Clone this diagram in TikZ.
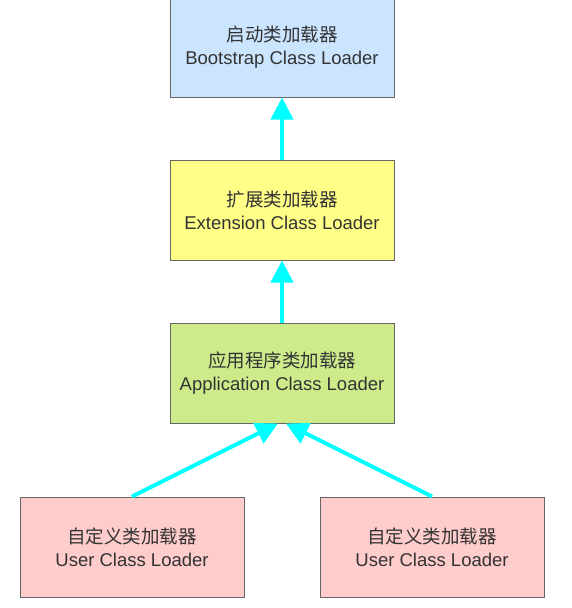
\documentclass[tikz,border=0pt]{standalone}
\usepackage{fontspec}
\setmainfont{Liberation Sans}
\newfontfamily\cjk{Noto Sans CJK SC}
\usepackage{xcolor}
\usetikzlibrary{arrows.meta, positioning}

\definecolor{bootblue}{HTML}{CCE5FF}
\definecolor{extyellow}{HTML}{FFFF88}
\definecolor{appgreen}{HTML}{CDEB8B}
\definecolor{userpink}{HTML}{FFCCCC}
\definecolor{linegray}{HTML}{666666}
\definecolor{textgray}{HTML}{333333}
\definecolor{arrowcyan}{HTML}{00FFFF}

\begin{document}
\begin{tikzpicture}[x=1pt, y=-1pt, node distance=62pt]
\tikzstyle{loader} = [rectangle, minimum width=224pt, minimum height=100pt, text centered, align=center, draw=linegray, line width=1pt, text=textgray, font=\fontsize{18.5}{23}\selectfont]
\tikzstyle{arrow} = [draw=arrowcyan, line width=4pt, -{Triangle[length=22pt, width=22pt]}]

\useasboundingbox (0,0) rectangle (572,608);

\node (boot) [loader, fill=bootblue] at (282,47) {{\cjk 启动类加载器}\\Bootstrap Class Loader};
\node (ext) [loader, fill=extyellow, below=of boot] {{\cjk 扩展类加载器}\\Extension Class Loader};
\node (app) [loader, fill=appgreen, below=of ext] {{\cjk 应用程序类加载器}\\Application Class Loader};
\node (user1) [loader, fill=userpink, below=73pt of app, xshift=-150pt] {{\cjk 自定义类加载器}\\User Class Loader};
\node (user2) [loader, fill=userpink, below=73pt of app, xshift=150pt] {{\cjk 自定义类加载器}\\User Class Loader};

\draw [arrow] (ext) -- (boot);
\draw [arrow] (app) -- (ext);
\draw [arrow] (user1.north) -- ([xshift=-4pt]app.south);
\draw [arrow] (user2.north) -- ([xshift=4pt]app.south);
\end{tikzpicture}
\end{document}
